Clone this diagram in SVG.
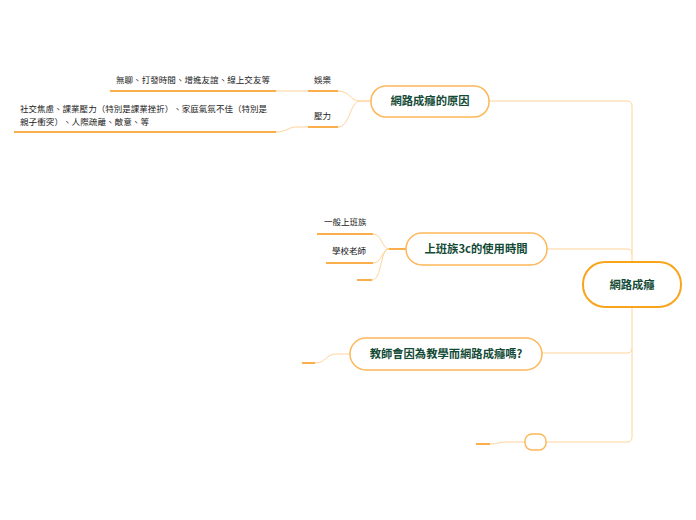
<svg xmlns="http://www.w3.org/2000/svg" width="696" height="520" viewBox="0 0 696 520">
<style>
.node{fill:#fff;stroke:#fdb85a;stroke-width:1.5}
.root{fill:#fff;stroke:#f8a51c;stroke-width:2}
.nt{font-family:"Noto Sans CJK TC","Noto Sans",sans-serif;font-weight:bold;font-size:11.3px;fill:#134a36;text-anchor:middle}
.ct{font-family:"Noto Sans CJK TC","Noto Sans",sans-serif;font-size:8.5px;fill:#222}
.ul{stroke:#fbae4c;stroke-width:2;fill:none}
.cn{stroke:#ffd49a;stroke-width:1;fill:none}
</style>
<rect width="696" height="520" fill="#fff"/>
<g id="connectors">
<path class="cn" d="M489,101 H627 Q632,101 632,106 V437 Q632,442 627,442 H546"/>
<path class="cn" d="M547,249 H627 Q632,249 632,254"/>
<path class="cn" d="M542,353 H627 Q632,353 632,348"/>
<path class="cn" d="M371,101 H360 C350,101 350,91 338,91"/>
<path class="cn" d="M371,101 H360 C350,101 350,127 338,127"/>
<path class="cn" d="M308,91 H295 C288,91 288,91 276,91"/>
<path class="cn" d="M308,127 H296 C288,127 287,132 276,132"/>
<path class="ul" d="M389,249 H406"/>
<path class="cn" d="M389,249 C382,249 382,234 373,234"/>
<path class="cn" d="M389,249 C382,249 382,263 373,263"/>
<path class="cn" d="M389,249 C380,249 382,280 372,280"/>
<path class="cn" d="M350,354 H336 C326,354 326,363 315,363"/>
<path class="cn" d="M525,442 H508 C498,442 498,444 490,444"/>
</g>
<g id="root">
<rect class="root" x="583" y="262" width="98" height="45" rx="22"/>
<text class="nt" x="632" y="289">網路成癮</text>
</g>
<g id="n1">
<rect class="node" x="371" y="86" width="118" height="31" rx="15"/>
<text class="nt" x="430" y="105">網路成癮的原因</text>
</g>
<g id="n1a">
<text class="ct" x="314" y="83">娛樂</text>
<path class="ul" d="M308,91 H338"/>
</g>
<g id="n1a1">
<text class="ct" x="116" y="83" textLength="154" lengthAdjust="spacingAndGlyphs">無聊、打發時間、增進友誼、線上交友等</text>
<path class="ul" d="M110,91 H276"/>
</g>
<g id="n1b">
<text class="ct" x="314" y="119">壓力</text>
<path class="ul" d="M308,127 H338"/>
</g>
<g id="n1b1">
<text class="ct" x="20" y="112" textLength="247" lengthAdjust="spacingAndGlyphs">社交焦慮、課業壓力（特別是課業挫折）、家庭氣氛不佳（特別是</text>
<text class="ct" x="20" y="125" textLength="129" lengthAdjust="spacingAndGlyphs">親子衝突）、人際疏離、敵意、等</text>
<path class="ul" d="M14,132 H276"/>
</g>
<g id="n2">
<rect class="node" x="406" y="233" width="141" height="32" rx="16"/>
<text class="nt" x="476" y="253">上班族3c的使用時間</text>
</g>
<g id="n2a">
<text class="ct" x="324" y="225">一般上班族</text>
<path class="ul" d="M317,234 H373"/>
</g>
<g id="n2b">
<text class="ct" x="332" y="254">學校老師</text>
<path class="ul" d="M326,263 H373"/>
</g>
<g id="n2c">
<path class="ul" d="M357,280 H372"/>
</g>
<g id="n3">
<rect class="node" x="350" y="338" width="192" height="32" rx="16"/>
<text class="nt" x="446" y="358">教師會因為教學而網路成癮嗎?</text>
</g>
<g id="n3a">
<path class="ul" d="M302,363 H315"/>
</g>
<g id="n4">
<rect class="node" x="525" y="434" width="21" height="16" rx="7"/>
</g>
<g id="n4a">
<path class="ul" d="M476,444 H490"/>
</g>
</svg>
